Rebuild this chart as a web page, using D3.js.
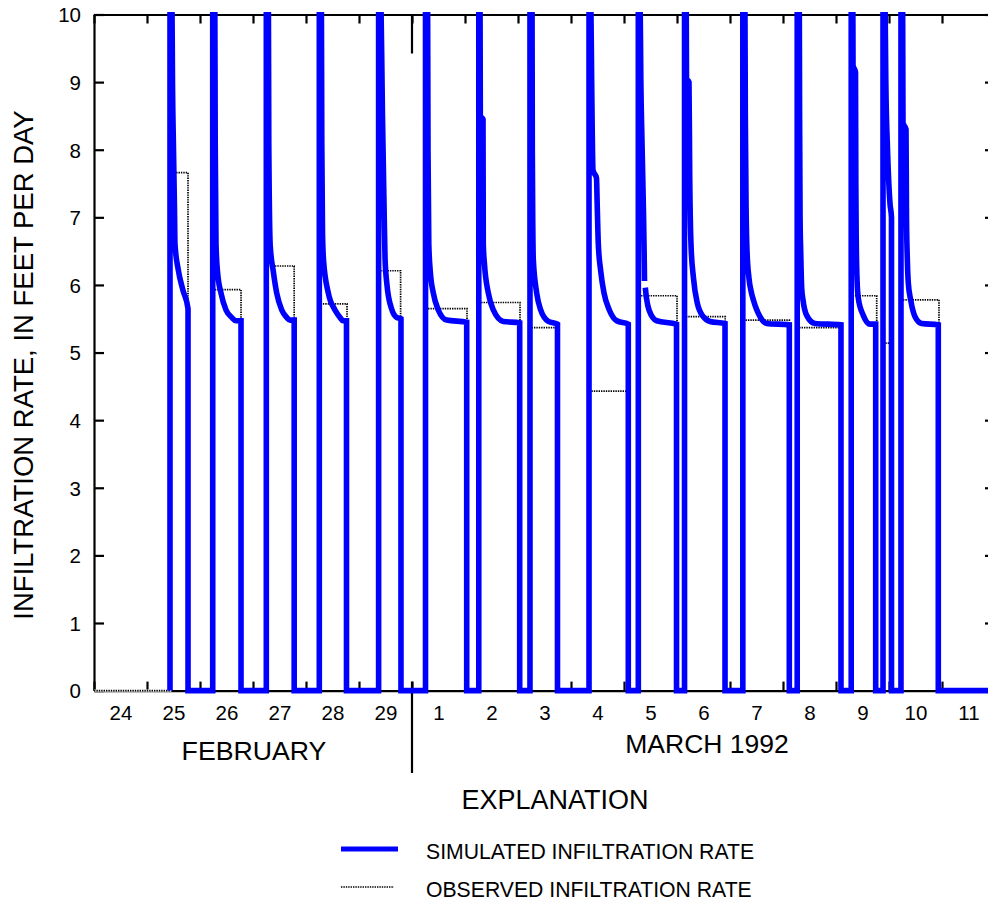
<!DOCTYPE html>
<html>
<head>
<meta charset="utf-8">
<script src="https://cdn.jsdelivr.net/npm/d3@7"></script>
<style>
body { margin: 0; background: #fff; }
text { font-family: "Liberation Sans", Arial, sans-serif; fill: #000; }
</style>
</head>
<body>
<svg id="chart" width="988" height="900"></svg>
<script>
const width = 988
const height = 900

// x values are days after 24 February 1992, 00:00
const dayLabels = ["24", "25", "26", "27", "28", "29", "1", "2", "3", "4", "5", "6", "7", "8", "9", "10", "11"]
const monthLabels = ["FEBRUARY", "MARCH 1992"]
const yTicks = [0, 1, 2, 3, 4, 5, 6, 7, 8, 9, 10]
const seriesNames = ["SIMULATED INFILTRATION RATE", "OBSERVED INFILTRATION RATE"]

// simulated rate, ft/day (null = break in the trace)
const simulatedRate = [
    [1.434, 0], [1.434, 11], [1.468, 10.5], [1.481, 9], [1.500, 8], [1.519, 7.1], [1.528, 6.6], [1.591, 6.22], [1.679, 5.92], [1.774, 5.65], [1.774, 0],
    [2.240, 0], [2.240, 11], [2.278, 10.5], [2.287, 8.1], [2.302, 6.6], [2.330, 6.2], [2.396, 5.88], [2.491, 5.63], [2.598, 5.52], [2.679, 5.47], [2.774, 5.47], [2.774, 0],
    [3.251, 0], [3.251, 11], [3.289, 10.5], [3.298, 8.1], [3.325, 6.58], [3.383, 6.2], [3.447, 5.88], [3.542, 5.63], [3.636, 5.52], [3.698, 5.48], [3.777, 5.48], [3.777, 0],
    [4.251, 0], [4.251, 11], [4.289, 10.5], [4.298, 8.1], [4.311, 6.8], [4.330, 6.37], [4.421, 5.88], [4.547, 5.63], [4.642, 5.52], [4.698, 5.47], [4.764, 5.47], [4.764, 0],
    [5.370, 0], [5.370, 11], [5.408, 10.5], [5.443, 8.5], [5.472, 7.2], [5.491, 6.4], [5.528, 6.0], [5.613, 5.65], [5.708, 5.52], [5.792, 5.5], [5.792, 0],
    [6.255, 0], [6.255, 11], [6.293, 10.5], [6.302, 8], [6.317, 6.6], [6.345, 6.2], [6.402, 5.88], [6.496, 5.63], [6.655, 5.48], [7.032, 5.45], [7.032, 0],
    [7.260, 0], [7.260, 11], [7.283, 10.5], [7.289, 8.5], [7.340, 8.45], [7.345, 6.6], [7.368, 6.3], [7.440, 5.88], [7.534, 5.63], [7.723, 5.46], [8.032, 5.44], [8.032, 0],
    [8.226, 0], [8.226, 11], [8.264, 10.5], [8.270, 8], [8.280, 6.8], [8.289, 6.37], [8.353, 5.88], [8.428, 5.63], [8.572, 5.46], [8.745, 5.42], [8.745, 0],
    [9.340, 0], [9.340, 11], [9.370, 10.5], [9.390, 9], [9.415, 7.7], [9.481, 7.58], [9.494, 7.2], [9.515, 6.61], [9.560, 6.21], [9.623, 5.88], [9.723, 5.63], [9.862, 5.47], [10.081, 5.42], [10.081, 0],
    [10.270, 0], [10.270, 11], [10.300, 10.5], [10.318, 9], [10.340, 8.1], [10.383, 6.32], [10.387, 6.06], null,
    [10.402, 5.96], [10.425, 5.8], [10.472, 5.63], [10.617, 5.47], [10.991, 5.42], [10.991, 0],
    [11.142, 0], [11.142, 11], [11.172, 10.5], [11.179, 9.05], [11.226, 9.0], [11.240, 7.6], [11.264, 6.6], [11.308, 6.12], [11.383, 5.73], [11.496, 5.53], [11.623, 5.46], [11.906, 5.43], [11.906, 0],
    [12.242, 0], [12.242, 11], [12.280, 10.5], [12.289, 8.5], [12.306, 7], [12.321, 6.5], [12.358, 6.1], [12.406, 5.88], [12.440, 5.78], [12.566, 5.53], [12.692, 5.43], [13.119, 5.41], [13.119, 0],
    [13.268, 0], [13.268, 11], [13.306, 10.5], [13.313, 8.5], [13.322, 7], [13.334, 6.5], [13.353, 5.95], [13.377, 5.78], [13.447, 5.55], [13.604, 5.43], [14.094, 5.41], [14.094, 0],
    [14.287, 0], [14.287, 11], [14.317, 10.5], [14.321, 9.25], [14.368, 9.15], [14.374, 7.5], [14.383, 6.6], [14.396, 6.1], [14.421, 5.8], [14.515, 5.55], [14.642, 5.42], [14.749, 5.42], [14.749, 0],
    [14.887, 0], [14.887, 11], [14.921, 10.5], [14.940, 9], [14.972, 8], [15.019, 7.2], [15.047, 7.0], [15.047, 0],
    [15.226, 0], [15.226, 11], [15.256, 10.5], [15.264, 8.4], [15.321, 8.3], [15.330, 7], [15.345, 6.4], [15.364, 6.03], [15.409, 5.78], [15.491, 5.53], [15.617, 5.43], [15.930, 5.41], [15.930, 0],
    [17, 0]
]

// observed rate, one value per flooding period
const observedStart = [1.44, 2.25, 3.26, 4.26, 5.38, 6.26, 7.27, 8.23, 9.35, 10.28, 11.15, 12.25, 13.27, 14.29, 14.90, 15.23]
const observedEnd = [1.774, 2.774, 3.777, 4.774, 5.785, 7.038, 8.038, 8.74, 10.06, 11.0, 11.91, 13.12, 14.10, 14.768, 15.04, 15.943]
const observedRate = [7.66, 5.93, 6.28, 5.72, 6.21, 5.65, 5.74, 5.37, 4.43, 5.84, 5.53, 5.48, 5.37, 5.84, 5.14, 5.78]

const font = '"Liberation Sans", Arial, sans-serif'
const blue = "#0000ff"

const x = d3.scaleLinear().domain([0, 17]).range([94, 995])
const y = d3.scaleLinear().domain([0, 10]).range([690.6, 14.5])

const svg = d3.select("#chart")
    .style("background", "#fff")

svg.append("defs").append("clipPath")
    .attr("id", "plot-clip")
    .append("rect")
        .attr("x", x(0))
        .attr("y", y(10) - 2.5)
        .attr("width", x(17) - x(0))
        .attr("height", y(0) - y(10) + 10)

const styleAxis = g => {
    g.selectAll("path, line").attr("stroke", "#000").attr("stroke-width", 2.2)
    g.attr("font-family", font).attr("font-size", 20.5)
}

const dayTicks = dayLabels.map((d, i) => i).concat([17])

// frame and inward ticks
svg.append("g")
    .attr("transform", `translate(0, ${y(0)})`)
    .call(d3.axisBottom(x).tickValues(dayTicks).tickSizeInner(-9).tickSizeOuter(0).tickFormat(""))
    .call(styleAxis)

svg.append("g")
    .attr("transform", `translate(0, ${y(10)})`)
    .call(d3.axisTop(x).tickValues(dayTicks).tickSizeInner(-9).tickSizeOuter(0).tickFormat(""))
    .call(styleAxis)

svg.append("g")
    .attr("transform", `translate(${x(0)}, 0)`)
    .call(d3.axisLeft(y).tickValues(yTicks).tickSizeInner(-10).tickSizeOuter(0).tickPadding(13))
    .call(styleAxis)
    .call(g => g.selectAll("text").attr("dy", "0.36em"))

svg.append("g")
    .attr("transform", `translate(${x(17)}, 0)`)
    .call(d3.axisRight(y).tickValues(yTicks).tickSizeInner(-10).tickSizeOuter(0).tickFormat(""))
    .call(styleAxis)

// day labels sit at noon
svg.append("g")
    .attr("transform", `translate(0, ${y(0)})`)
    .call(d3.axisBottom(x).tickValues(dayLabels.map((d, i) => i + 0.5)).tickSize(0).tickPadding(15).tickFormat((d, i) => dayLabels[i]))
    .call(styleAxis)
    .call(g => g.select(".domain").remove())

// month boundary
svg.append("line")
    .attr("x1", x(6)).attr("x2", x(6))
    .attr("y1", y(10)).attr("y2", y(10) + 39)
    .attr("stroke", "#000").attr("stroke-width", 2.2)
svg.append("line")
    .attr("x1", x(6)).attr("x2", x(6))
    .attr("y1", y(0) - 9).attr("y2", 773)
    .attr("stroke", "#000").attr("stroke-width", 2.2)

// observed step line
const observedPoints = [[0, 0]]
observedRate.forEach((r, i) => {
    observedPoints.push([observedStart[i], 0], [observedStart[i], r], [observedEnd[i], r], [observedEnd[i], 0])
})
observedPoints.push([17, 0])

const stepLine = d3.line()
    .x(d => x(d[0]))
    .y(d => y(d[1]))

const simLine = d3.line()
    .defined(d => d !== null)
    .x(d => x(d[0]))
    .y(d => y(d[1]))
    .curve(d3.curveMonotoneX)

const obs = svg.append("g").attr("clip-path", "url(#plot-clip)")
obs.append("path")
    .attr("d", stepLine(observedPoints))
    .attr("fill", "none")
    .attr("stroke", "#fff")
    .attr("stroke-width", 2.2)
obs.append("path")
    .attr("d", stepLine(observedPoints))
    .attr("fill", "none")
    .attr("stroke", "#000")
    .attr("stroke-width", 1.7)
    .attr("stroke-dasharray", "1.4,1")

svg.append("g").attr("clip-path", "url(#plot-clip)")
    .append("path")
        .attr("d", simLine(simulatedRate))
        .attr("fill", "none")
        .attr("stroke", blue)
        .attr("stroke-width", 5.6)

// titles
svg.append("text")
    .attr("transform", "translate(33, 365) rotate(-90)")
    .attr("text-anchor", "middle")
    .style("font-size", "27.5px")
    .text("INFILTRATION RATE, IN FEET PER DAY")

svg.append("text")
    .attr("x", 254).attr("y", 760)
    .attr("text-anchor", "middle")
    .style("font-size", "26.7px")
    .text(monthLabels[0])

svg.append("text")
    .attr("x", 707).attr("y", 753)
    .attr("text-anchor", "middle")
    .style("font-size", "26.5px")
    .text(monthLabels[1])

svg.append("text")
    .attr("x", 555).attr("y", 809)
    .attr("text-anchor", "middle")
    .style("font-size", "27px")
    .text("EXPLANATION")

// legend
svg.append("line")
    .attr("x1", 341).attr("x2", 398)
    .attr("y1", 849).attr("y2", 849)
    .attr("stroke", blue).attr("stroke-width", 5)
svg.append("line")
    .attr("x1", 341).attr("x2", 394)
    .attr("y1", 887).attr("y2", 887)
    .attr("stroke", "#000").attr("stroke-width", 1.7)
    .attr("stroke-dasharray", "1.4,1")

svg.selectAll(".legend-label")
    .data(seriesNames)
    .enter()
    .append("text")
        .attr("class", "legend-label")
        .attr("x", 426)
        .attr("y", (d, i) => 859 + i * 38)
        .style("font-size", "21.2px")
        .text(d => d)
</script>
</body>
</html>
